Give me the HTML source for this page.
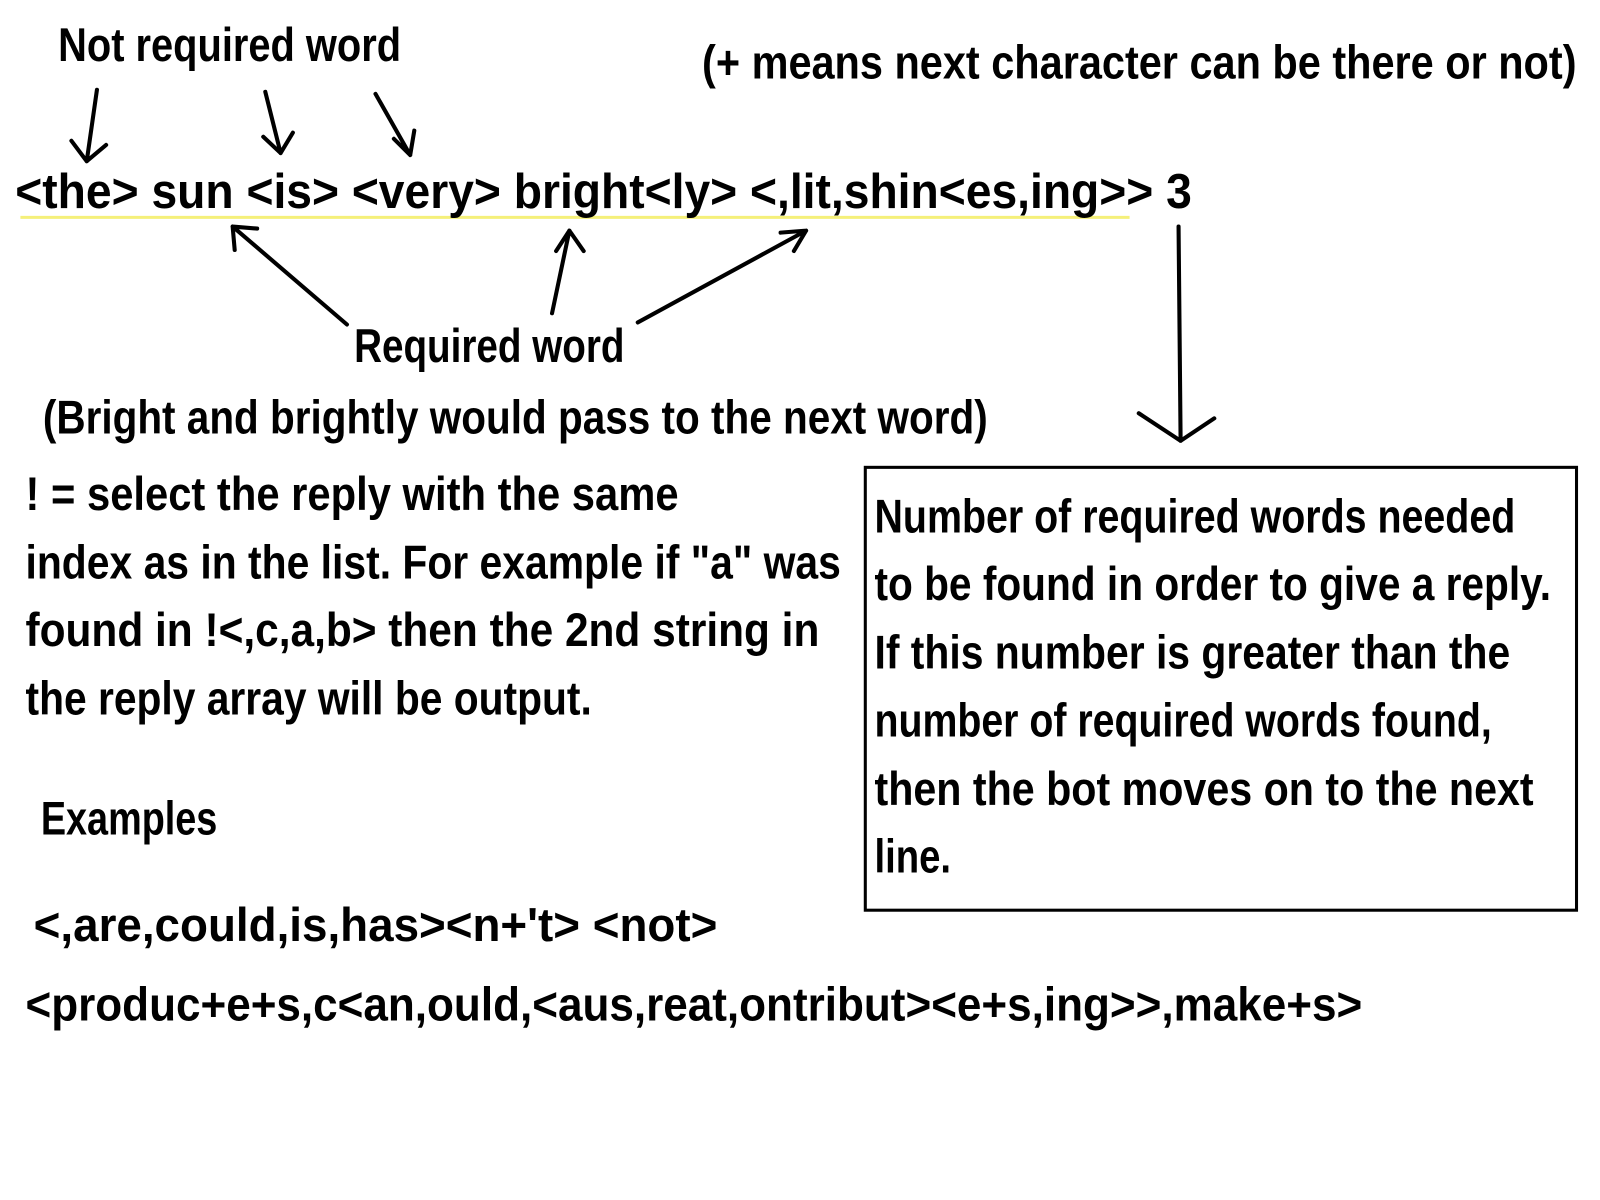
<!DOCTYPE html>
<html><head><meta charset="utf-8"><style>
html,body{margin:0;padding:0;background:#fff;}
svg{display:block}
text{font-family:"Liberation Sans Narrow","Liberation Sans",sans-serif;font-weight:bold;fill:#000}
</style></head><body>
<svg width="1600" height="1200" viewBox="0 0 1600 1200" xmlns="http://www.w3.org/2000/svg">
<g transform="scale(1.0204)">
<g font-size="46">
<text x="57" y="60" textLength="336" lengthAdjust="spacingAndGlyphs">Not required word</text>
<text x="688" y="77" textLength="857" lengthAdjust="spacingAndGlyphs">(+ means next character can be there or not)</text>
</g>
<line x1="20" y1="213" x2="1107" y2="213" stroke="#f5f07a" stroke-width="3"/>
<text x="15" y="204" font-size="48" textLength="1153" lengthAdjust="spacingAndGlyphs">&lt;the&gt; sun &lt;is&gt; &lt;very&gt; bright&lt;ly&gt; &lt;,lit,shin&lt;es,ing&gt;&gt; 3</text>
<g stroke="#000" stroke-width="4" fill="none" stroke-linecap="round" stroke-linejoin="round">
<path d="M95 88 L85 158 M70 138 L85 158 L104 142"/>
<path d="M260 90 L275 150 M258 134 L275 150 L287 130"/>
<path d="M368 92 L402 152 M386 136 L402 152 L406 128"/>
<path d="M340 318 L228 222 M230 245 L228 222 L252 224"/>
<path d="M541 307 L558 226 M545 246 L558 226 L572 246"/>
<path d="M625 316 L790 226 M765 228 L790 226 L778 246"/>
<path d="M1155 222 L1157 432 M1116 405 L1157 432 L1190 410"/>
</g>
<g font-size="46">
<text x="347" y="355" textLength="265" lengthAdjust="spacingAndGlyphs">Required word</text>
<text x="42" y="425" textLength="926" lengthAdjust="spacingAndGlyphs">(Bright and brightly would pass to the next word)</text>
<text x="25" y="500" textLength="640" lengthAdjust="spacingAndGlyphs">! = select the reply with the same</text>
<text x="25" y="567" textLength="799" lengthAdjust="spacingAndGlyphs">index as in the list. For example if "a" was</text>
<text x="25" y="633" textLength="778" lengthAdjust="spacingAndGlyphs">found in !&lt;,c,a,b&gt; then the 2nd string in</text>
<text x="25" y="700" textLength="555" lengthAdjust="spacingAndGlyphs">the reply array will be output.</text>
<text x="40" y="818" textLength="173" lengthAdjust="spacingAndGlyphs">Examples</text>
<text x="33" y="922" textLength="670" lengthAdjust="spacingAndGlyphs">&lt;,are,could,is,has&gt;&lt;n+'t&gt; &lt;not&gt;</text>
<text x="25" y="1000" textLength="1310" lengthAdjust="spacingAndGlyphs">&lt;produc+e+s,c&lt;an,ould,&lt;aus,reat,ontribut&gt;&lt;e+s,ing&gt;&gt;,make+s&gt;</text>
</g>
<rect x="848" y="458" width="697" height="434" fill="none" stroke="#000" stroke-width="3"/>
<g font-size="46">
<text x="857" y="522" textLength="628" lengthAdjust="spacingAndGlyphs">Number of required words needed</text>
<text x="857" y="588" textLength="663" lengthAdjust="spacingAndGlyphs">to be found in order to give a reply.</text>
<text x="857" y="655" textLength="623" lengthAdjust="spacingAndGlyphs">If this number is greater than the</text>
<text x="857" y="722" textLength="605" lengthAdjust="spacingAndGlyphs">number of required words found,</text>
<text x="857" y="789" textLength="646" lengthAdjust="spacingAndGlyphs">then the bot moves on to the next</text>
<text x="857" y="855" textLength="75" lengthAdjust="spacingAndGlyphs">line.</text>
</g>
</g>
</svg>
</body></html>
